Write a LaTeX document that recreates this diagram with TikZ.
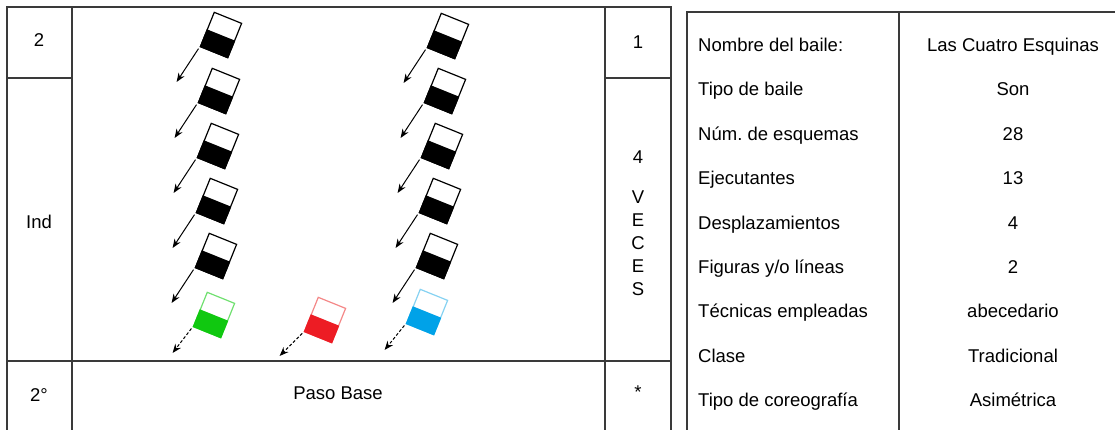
\documentclass[tikz,border=0pt]{standalone}
\usepackage{fontspec}
\setmainfont{Liberation Sans}
\usepackage{xcolor}
\usetikzlibrary{arrows.meta, positioning}
\frenchspacing

\definecolor{rejilla}{HTML}{3A3A3A}
\definecolor{verde}{HTML}{10C810}
\definecolor{verdeclaro}{HTML}{70E070}
\definecolor{rojo}{HTML}{ED1C24}
\definecolor{rojoclaro}{HTML}{F48888}
\definecolor{azul}{HTML}{00A2E8}
\definecolor{azulclaro}{HTML}{86D2F2}

\tikzstyle{borde} = [line width=1.2pt, draw=rejilla]
\tikzstyle{celda} = [font=\fontsize{18.5}{23}\selectfont, inner sep=0pt, align=center]
\tikzstyle{etiqueta} = [celda, anchor=base west]
\tikzstyle{valor} = [celda, anchor=base]
\tikzstyle{bailarin} = [rectangle, rotate=-22, minimum width=29.5pt, minimum height=37pt, inner sep=0pt, line width=1.2pt, fill=white]
\tikzstyle{flecha} = [line width=1pt, -{Stealth[length=9pt, width=7pt]}, shorten <=2pt]
\tikzstyle{flechapunteada} = [flecha, densely dashed]

% bailarin: nombre, posicion, relleno, borde
\newcommand{\bailarin}[4]{%
  \node (#1) [bailarin, draw=#4] at (#2) {};
  \fill [#3] (#1.west) -- (#1.east) -- (#1.south east) -- (#1.south west) -- cycle;
}

\begin{document}
\begin{tikzpicture}[x=1pt, y=-1pt]
    \useasboundingbox (0,0) rectangle (1115,430);

    % cuadro del esquema
    \draw [borde] (7,7) rectangle (671,450);
    \draw [borde] (72,7) -- (72,450);
    \draw [borde] (605,7) -- (605,450);
    \draw [borde] (7,78) -- (72,78);
    \draw [borde] (605,78) -- (671,78);
    \draw [borde] (7,361) -- (671,361);

    \node (esquema) [celda] at (39,40) {2};
    \node (formacion) [celda] at (39,222) {Ind};
    \node (orden) [celda] at (39,395) {2°};
    \node (tiempo) [celda] at (638,42) {1};
    \node (veces) [celda] at (638,223) {4\\[17pt]V\\E\\C\\E\\S};
    \node (marca) [celda] at (638,392) {*};
    \node (paso) [celda] at (338,393) {Paso Base};

    % bailarines
    \bailarin{iz1}{221,35}{black}{black}
    \bailarin{iz2}{219,91}{black}{black}
    \bailarin{iz3}{218,146}{black}{black}
    \bailarin{iz4}{217,201}{black}{black}
    \bailarin{iz5}{216,256}{black}{black}
    \bailarin{verde}{214,315}{verde}{verdeclaro}
    \bailarin{roja}{325,320}{rojo}{rojoclaro}
    \bailarin{de1}{448,36}{black}{black}
    \bailarin{de2}{445,91}{black}{black}
    \bailarin{de3}{442,146}{black}{black}
    \bailarin{de4}{440,201}{black}{black}
    \bailarin{de5}{437,256}{black}{black}
    \bailarin{azul}{427,312}{azul}{azulclaro}

    \coordinate [below left=35pt and 23pt of iz1.south west] (piz1);
    \coordinate [below left=35pt and 23pt of iz2.south west] (piz2);
    \coordinate [below left=35pt and 23pt of iz3.south west] (piz3);
    \coordinate [below left=35pt and 23pt of iz4.south west] (piz4);
    \coordinate [below left=35pt and 23pt of iz5.south west] (piz5);
    \coordinate [below left=35pt and 23pt of de1.south west] (pde1);
    \coordinate [below left=35pt and 23pt of de2.south west] (pde2);
    \coordinate [below left=35pt and 23pt of de3.south west] (pde3);
    \coordinate [below left=35pt and 23pt of de4.south west] (pde4);
    \coordinate [below left=35pt and 23pt of de5.south west] (pde5);
    \coordinate [below left=26pt and 20pt of verde.south west] (pverde);
    \coordinate [below left=24pt and 24pt of roja.south west] (proja);
    \coordinate [below left=26pt and 21pt of azul.south west] (pazul);

    \draw [flecha] (iz1.south west) -- (piz1);
    \draw [flecha] (iz2.south west) -- (piz2);
    \draw [flecha] (iz3.south west) -- (piz3);
    \draw [flecha] (iz4.south west) -- (piz4);
    \draw [flecha] (iz5.south west) -- (piz5);
    \draw [flecha] (de1.south west) -- (pde1);
    \draw [flecha] (de2.south west) -- (pde2);
    \draw [flecha] (de3.south west) -- (pde3);
    \draw [flecha] (de4.south west) -- (pde4);
    \draw [flecha] (de5.south west) -- (pde5);
    \draw [flechapunteada] (verde.south west) -- (pverde);
    \draw [flechapunteada] (roja.south west) -- (proja);
    \draw [flechapunteada] (azul.south west) -- (pazul);

    % ficha del baile
    \draw [borde] (687,450) -- (687,12) -- (1130,12);
    \draw [borde] (899,12) -- (899,450);
    \coordinate (colvalor) at (1013,0);

    \node (nombre) [etiqueta] at (698,51.5) {Nombre del baile:};
    \node (tipo) [etiqueta, below=44.4pt of nombre.base west, anchor=base west] {Tipo de baile};
    \node (num) [etiqueta, below=44.4pt of tipo.base west, anchor=base west] {Núm. de esquemas};
    \node (ejec) [etiqueta, below=44.4pt of num.base west, anchor=base west] {Ejecutantes};
    \node (despl) [etiqueta, below=44.4pt of ejec.base west, anchor=base west] {Desplazamientos};
    \node (figuras) [etiqueta, below=44.4pt of despl.base west, anchor=base west] {Figuras y/o líneas};
    \node (tecnicas) [etiqueta, below=44.4pt of figuras.base west, anchor=base west] {Técnicas empleadas};
    \node (clase) [etiqueta, below=44.4pt of tecnicas.base west, anchor=base west] {Clase};
    \node (coreo) [etiqueta, below=44.4pt of clase.base west, anchor=base west] {Tipo de coreografía};

    \node (vnombre) [valor] at (colvalor |- nombre.base) {Las Cuatro Esquinas};
    \node (vtipo) [valor] at (colvalor |- tipo.base) {Son};
    \node (vnum) [valor] at (colvalor |- num.base) {28};
    \node (vejec) [valor] at (colvalor |- ejec.base) {13};
    \node (vdespl) [valor] at (colvalor |- despl.base) {4};
    \node (vfiguras) [valor] at (colvalor |- figuras.base) {2};
    \node (vtecnicas) [valor] at (colvalor |- tecnicas.base) {abecedario};
    \node (vclase) [valor] at (colvalor |- clase.base) {Tradicional};
    \node (vcoreo) [valor] at (colvalor |- coreo.base) {Asimétrica};
\end{tikzpicture}
\end{document}
